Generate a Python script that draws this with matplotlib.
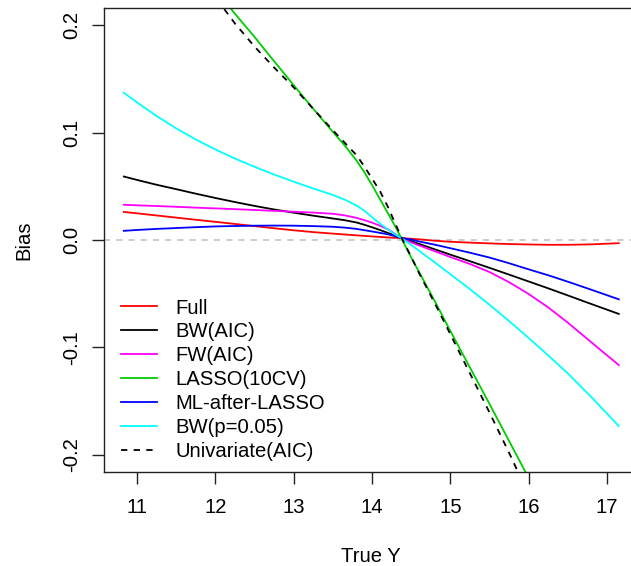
import matplotlib
matplotlib.use("Agg")
import matplotlib.pyplot as plt

plt.rcParams['font.family'] = ['Liberation Sans', 'DejaVu Sans']

# ---- data ----
x_grid = [10.83, 11.0, 11.25, 11.5, 11.75, 12.0, 12.25, 12.5, 12.75, 13.0, 13.25,
          13.5, 13.65, 13.8, 13.9, 14.0, 14.1, 14.2, 14.3, 14.37, 14.5, 14.6,
          14.8, 15.0, 15.25, 15.5, 15.75, 16.0, 16.25, 16.5, 16.8, 17.15]

full = [0.026, 0.0247, 0.0227, 0.0207, 0.0187, 0.0168, 0.0148, 0.0128, 0.0108,
        0.0089, 0.0072, 0.0058, 0.005, 0.0042, 0.0037, 0.0032, 0.0027, 0.0022,
        0.0019, 0.0016, 0.001, 0.0005, -0.0008, -0.0018, -0.0026, -0.0033,
        -0.0039, -0.0043, -0.0046, -0.0046, -0.0042, -0.0031]
bw_aic = [0.059, 0.0558, 0.0513, 0.0472, 0.0430, 0.0390, 0.0352, 0.0316, 0.0283,
          0.0253, 0.0225, 0.0199, 0.0183, 0.0162, 0.0141, 0.0117, 0.0092, 0.0065,
          0.0038, 0.0018, -0.0012, -0.0038, -0.0088, -0.0138, -0.0199, -0.0261,
          -0.0324, -0.0388, -0.0452, -0.0518, -0.0598, -0.069]
fw_aic = [0.0327, 0.0322, 0.0315, 0.0308, 0.030, 0.0293, 0.0286, 0.0278, 0.027,
          0.0262, 0.0254, 0.0243, 0.0228, 0.0205, 0.0184, 0.016, 0.0132, 0.0098,
          0.0053, 0.0018, -0.0024, -0.0052, -0.0106, -0.016, -0.0225, -0.030,
          -0.0395, -0.0505, -0.063, -0.0772, -0.0955, -0.1167]
ml_after_lasso = [0.0084, 0.0092, 0.0102, 0.011, 0.0118, 0.0125, 0.0129, 0.0132,
                  0.0133, 0.0132, 0.0128, 0.0122, 0.0114, 0.0102, 0.009, 0.0078,
                  0.0065, 0.0052, 0.0034, 0.0018, 0.0003, -0.0015, -0.0045,
                  -0.0078, -0.012, -0.0165, -0.0218, -0.0275, -0.033, -0.039,
                  -0.0465, -0.0554]
bw_p05 = [0.137, 0.128, 0.1153, 0.1038, 0.0935, 0.0842, 0.0757, 0.068, 0.0608,
          0.0542, 0.0478, 0.0418, 0.0375, 0.032, 0.0272, 0.021, 0.0152, 0.0098,
          0.0048, 0.0018, -0.0048, -0.0102, -0.021, -0.032, -0.046, -0.0605,
          -0.0757, -0.0915, -0.1078, -0.1245, -0.1465, -0.1735]

x_lasso = [12.1, 12.3, 12.5, 12.75, 13.0, 13.25, 13.5, 13.65, 13.8, 13.9, 14.0,
           14.1, 14.2, 14.3, 14.37, 14.5, 14.6, 14.8, 15.0, 15.25, 15.5, 15.75, 16.0]
lasso_10cv = [0.224, 0.2062, 0.189, 0.1663, 0.144, 0.122, 0.1005, 0.088, 0.074,
              0.0632, 0.051, 0.038, 0.025, 0.012, 0.002, -0.0165, -0.030, -0.057,
              -0.085, -0.119, -0.153, -0.1875, -0.222]

x_uni = [12.0, 12.25, 12.5, 12.75, 13.0, 13.25, 13.5, 13.65, 13.8, 13.9, 14.0,
         14.1, 14.2, 14.3, 14.37, 14.5, 14.6, 14.8, 15.0, 15.25, 15.5, 15.75, 15.9]
univariate_aic = [0.226, 0.2015, 0.180, 0.1605, 0.142, 0.122, 0.102, 0.0905,
                  0.079, 0.0685, 0.057, 0.0455, 0.031, 0.0145, 0.003, -0.016,
                  -0.031, -0.059, -0.088, -0.1245, -0.161, -0.1985, -0.222]

labels = ["Full", "BW(AIC)", "FW(AIC)", "LASSO(10CV)", "ML-after-LASSO",
          "BW(p=0.05)", "Univariate(AIC)"]
x_ticks = [11, 12, 13, 14, 15, 16, 17]
y_ticks = [-0.2, -0.1, 0.0, 0.1, 0.2]
y_tick_labels = ["-0.2", "-0.1", "0.0", "0.1", "0.2"]

# ---- figure ----
W, H = 631, 566
fig = plt.figure(figsize=(W / 100, H / 100), dpi=100)
ax_l, ax_r, ax_t, ax_b = 104, 638.6, 8, 471.7
ax = fig.add_axes([ax_l / W, 1 - ax_b / H, (ax_r - ax_l) / W, (ax_b - ax_t) / H])

lw = 1.3
ax.axhline(0, color='#BEBEBE', lw=1.1, linestyle=(0, (4, 4)), zorder=1)
ax.plot(x_grid, full, color='#FF0000', lw=lw, label=labels[0])
ax.plot(x_grid, bw_aic, color='black', lw=lw, label=labels[1])
ax.plot(x_grid, fw_aic, color='#FF00FF', lw=lw, label=labels[2])
ax.plot(x_lasso, lasso_10cv, color='#00CD00', lw=lw, label=labels[3])
ax.plot(x_grid, ml_after_lasso, color='#0000FF', lw=lw, label=labels[4])
ax.plot(x_grid, bw_p05, color='#00FFFF', lw=lw, label=labels[5])
ax.plot(x_uni, univariate_aic, color='black', lw=lw, linestyle=(0, (3.5, 3.5)),
        label=labels[6])

xr = x_grid[-1] - x_grid[0]
ax.set_xlim(x_grid[0] - 0.04 * xr, x_grid[-1] + 0.04 * xr)
ax.set_ylim(-0.216, 0.216)

fs = 14.6
ax.set_xticks(x_ticks)
ax.set_xticklabels([str(v) for v in x_ticks])
ax.set_yticks(y_ticks)
ax.set_yticklabels(y_tick_labels)
ax.tick_params(axis='both', direction='out', length=8.5, width=1.0, labelsize=fs,
               color='#222222')
ax.tick_params(axis='x', pad=10.2)
ax.tick_params(axis='y', pad=8.2)
for t in ax.get_yticklabels():
    t.set_rotation(90)
    t.set_va('center')
    t.set_ha('right')

for s in ax.spines.values():
    s.set_linewidth(1.0)
    s.set_color('#222222')

ax.set_xlabel("True Y", fontsize=fs)
ax.set_ylabel("Bias", fontsize=fs)
ax.xaxis.set_label_coords(0.5, -(546.5 - ax_b) / (ax_b - ax_t))
ax.yaxis.set_label_coords(-(ax_l - 33.5) / (ax_r - ax_l), 0.5)

ax.legend(loc='upper left', bbox_to_anchor=(121 / W, 1 - 298.5 / H),
          bbox_transform=fig.transFigure, frameon=False, fontsize=fs,
          handlelength=1.78, handletextpad=0.9, labelspacing=0.245,
          borderpad=0, borderaxespad=0)

fig.savefig("out.png", dpi=100)
